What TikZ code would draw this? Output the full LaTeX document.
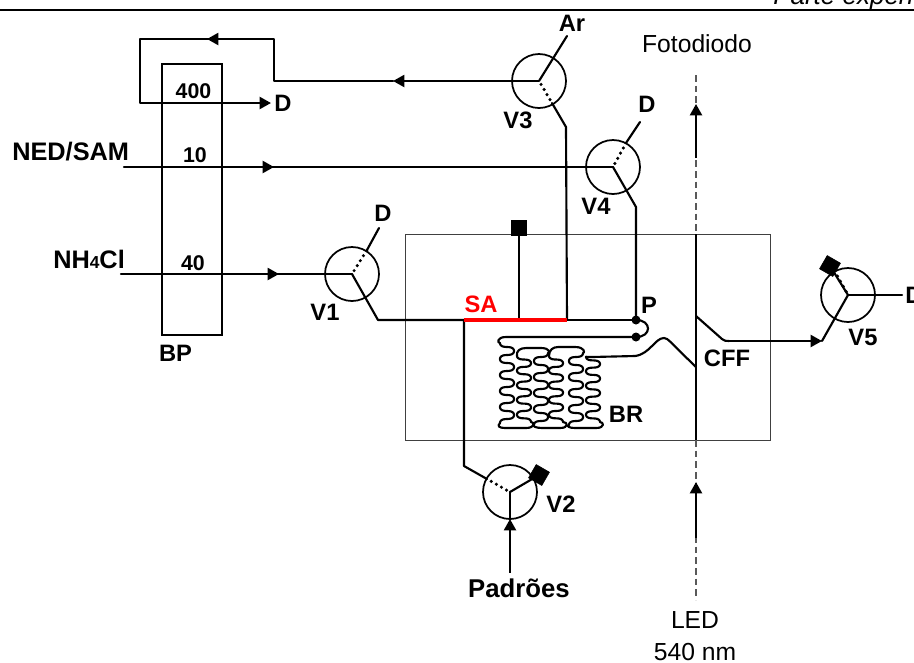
\documentclass[tikz,border=0pt]{standalone}
\usepackage{fontspec}
\setmainfont{Liberation Sans}
\usetikzlibrary{arrows.meta}
\newcommand{\wig}[5]{\draw[pipe] plot[domain=#4:#5,samples=170,variable=\t] ({#1+7*sin(\t)},{#2+(\t-(#4))/360*(#3)-0.07*(#3)*sin(2*\t)});}
\tikzset{
  x=0.75pt,y=-0.75pt,
  pipe/.style={draw=black,line width=1.6pt,line join=round,line cap=round},
  flow/.style={pipe,line cap=butt,-{Triangle[length=8.5pt,width=9pt]}},
  thinbox/.style={draw=black!75,line width=0.75pt},
  pump/.style={draw=black,line width=1.3pt},
  valve/.style={circle,draw=black,line width=1.3pt,minimum size=40.5pt,inner sep=0pt},
  dots/.style={line width=2.6pt,line cap=round,dash pattern=on 0pt off 4.4pt,dash phase=-3pt},
  stopper/.style={fill=black,draw=black,minimum size=11.5pt,inner sep=0pt},
  lab/.style={font=\bfseries\fontsize{17.8}{18}\selectfont,inner sep=0pt},
  num/.style={font=\bfseries\fontsize{16}{18}\selectfont,inner sep=0pt},
  big/.style={font=\bfseries\fontsize{19}{20}\selectfont,inner sep=0pt},
  plain/.style={font=\fontsize{18.5}{20}\selectfont,inner sep=0pt},
  optic/.style={draw=black!65,line width=0.8pt,dash pattern=on 5pt off 3pt},
  beam/.style={draw=black,line width=1.7pt},
}
\begin{document}
\begin{tikzpicture}
\useasboundingbox (0,0) rectangle (914,662);
% header
\coordinate (ruleL) at (0,10); \coordinate (ruleR) at (914,10);
\draw[line width=1.6pt] (ruleL) -- (ruleR);
\node[anchor=base west,inner sep=0pt,font=\itshape\fontsize{19.5}{20}\selectfont] (head) at (773,4) {Parte expen};
% boxes
\draw[thinbox] (405,234) rectangle (770,440);
\node[pump,draw,minimum width=45pt,minimum height=203.25pt,inner sep=0pt] (bp) at (192,199.5) {};
% valves
\node[valve] (v1) at (352,274) {};
\node[valve] (v2) at (510,492) {};
\node[valve] (v3) at (539,81) {};
\node[valve] (v4) at (613,167) {};
\node[valve] (v5) at (848,295) {};
% stoppers
\node[stopper] (sq) at (519,228) {};
\node[stopper,rotate=-30] (sq2) at (539,475) {};
\node[stopper,rotate=-30] (sq5) at (830,266) {};
% coordinates
\coordinate (nhs) at (121,274); \coordinate (nha) at (279,274);
\coordinate (neds) at (124,167); \coordinate (neda) at (274,167);
\coordinate (v3a) at (393,81); \coordinate (c1) at (274,81); \coordinate (c2) at (274,39);
\coordinate (c2a) at (207,39); \coordinate (c3) at (140,39); \coordinate (c4) at (140,103);
\coordinate (dtip) at (271,103);
\coordinate (v1p) at (367,250); \coordinate (v1d) at (379,228); \coordinate (v1k) at (378,320);
\coordinate (sa1) at (464,320); \coordinate (sam) at (519,320); \coordinate (sa2) at (567,320);
\coordinate (v3p) at (552,103); \coordinate (v3k) at (566,127); \coordinate (v3ar) at (567,36);
\coordinate (v4p) at (626,143); \coordinate (v4d) at (640,122); \coordinate (v4k) at (636,207);
\coordinate (p1) at (636,320); \coordinate (p2) at (636,337);
\coordinate (v2k) at (464,466); \coordinate (v2p) at (487,479);
\coordinate (v2t) at (510,519); \coordinate (v2s) at (510,573);
\coordinate (v5p) at (837,275); \coordinate (v5d) at (902,295);
\coordinate (v5t) at (822,341);
% flows
\draw[pipe] (nhs) -- (v1.center);
\draw[flow] (nhs) -- (nha);
\draw[pipe] (neds) -- (v4.center);
\draw[flow] (neds) -- (neda);
\draw[flow] (v3.center) -- (v3a);
\draw[pipe] (v3a) -- (c1) -- (c2) -- (c2a);
\draw[flow] (c2) -- (c2a);
\draw[flow] (c2a) -- (c3) -- (c4) -- (dtip);
% valve ports
\draw[pipe] (v1p) -- (v1d);
\draw[dots] (v1.center) -- (v1p);
\draw[pipe] (v1.center) -- (v1k) -- (sa1);
\draw[pipe] (v3.center) -- (v3ar);
\draw[dots] (v3.center) -- (v3p);
\draw[pipe] (v3p) -- (v3k) -- (sa2);
\draw[pipe] (v4p) -- (v4d);
\draw[dots] (v4.center) -- (v4p);
\draw[pipe] (v4.center) -- (v4k) -- (p1);
\draw[pipe] (sam) -- (sq);
\draw[pipe] (sa1) -- (v2k) -- (v2p);
\draw[dots] (v2.center) -- (v2p);
\draw[pipe] (v2.center) -- (sq2);
\draw[pipe] (v2.center) -- (v2t);
\draw[pipe,line cap=butt,{Triangle[length=8.5pt,width=9pt]}-] (v2t) -- (v2s);
\draw[dots] (v5.center) -- (v5p);
\draw[pipe] (v5.center) -- (sq5);
\draw[pipe] (v5.center) -- (v5d);
\draw[pipe] (v5.center) -- (v5t);
% sample loop
\draw[pipe] (sa2) -- (p1);
\draw[red,line width=2.4pt] (sa1) -- (sa2);
\fill (p1) circle[radius=4.5];
\fill (p2) circle[radius=4.5];
\draw[pipe] (p1) .. controls (652,320) and (652,337) .. (p2);
% reactor
\draw[pipe] (p2) -- (506,337) .. controls (497,337) and (497,343) .. (500,343);
\wig{507}{343}{16}{-90}{1710}
\draw[pipe] (500,423) .. controls (497,426) and (499,428) .. (505,428) -- (526,428) .. controls (535,428) and (535,422) .. (531,422);
\wig{524}{422}{-14.7}{90}{1710}
\draw[pipe] (517,355.85) .. controls (516,351) and (520,348) .. (526,348) -- (541,348) .. controls (550,348) and (550,353) .. (548,353);
\wig{541}{353}{16}{90}{1710}
\draw[pipe] (534,425) .. controls (532,426) and (536,428) .. (542,428) -- (560,428) .. controls (569,428) and (568,422) .. (563,422);
\wig{556}{422}{-14.7}{90}{1710}
\draw[pipe] (549,355.85) .. controls (549,350) and (553,347) .. (558,347) -- (575,347) .. controls (585,347) and (585,353) .. (583,353);
\wig{576}{353}{16}{90}{1710}
\draw[pipe] (569,425) .. controls (566,426) and (569,428) .. (575,428) -- (596,428) .. controls (605,428) and (604,422) .. (600,422);
\wig{593}{422}{-14.5}{90}{1710}
\draw[pipe] (586,356.75) .. controls (586,357) and (588,357) .. (592,357) -- (635,356)
  .. controls (650,354) and (655,338) .. (664,338) .. controls (668,338) and (670,342) .. (696,367);
\draw[pipe] (696,316) -- (722,339) .. controls (724,341) and (726,341) .. (729,341);
\draw[flow] (729,341) -- (v5t);
% optical axis
\coordinate (o1) at (696,75); \coordinate (o2) at (696,234); \coordinate (o3) at (696,440); \coordinate (o4) at (696,600);
\draw[optic] (o1) -- (o2);
\draw[optic] (o3) -- (o4);
\draw[beam] (o2) -- (o3);
\coordinate (a1) at (696,158); \coordinate (a2) at (696,104);
\coordinate (b1) at (696,538); \coordinate (b2) at (696,482);
\draw[beam,-{Triangle[length=8.5pt,width=9pt]}] (a1) -- (a2);
\draw[beam,-{Triangle[length=8.5pt,width=9pt]}] (b1) -- (b2);
% labels
\node[num] (n400) at (193.5,91.5) {400};
\node[num] (n10) at (195,155) {10};
\node[num] (n40) at (193,263) {40};
\node[lab] (d1) at (283,103) {D};
\node[big,anchor=west] (ned) at (12,152) {NED/SAM};
\node[big,anchor=base west] (nh) at (53,268) {NH{\fontsize{13}{14}\selectfont 4}Cl};
\node[lab] (d2) at (383,213) {D};
\node[lab] (lv1) at (325,312) {V1};
\node[lab] (lbp) at (175.5,353) {BP};
\node[lab] (lar) at (572,23) {Ar};
\node[plain] (foto) at (697,44) {Fotodiodo};
\node[lab] (lv3) at (518,120) {V3};
\node[lab] (d3) at (647,104) {D};
\node[lab] (lv4) at (596,206) {V4};
\node[lab,text=red] (lsa) at (481,304) {SA};
\node[lab] (lp) at (649,305) {P};
\node[lab] (lbr) at (626,414) {BR};
\node[lab] (lcff) at (727,358) {CFF};
\node[lab] (lv5) at (863,337) {V5};
\node[lab,anchor=west] (d4) at (905,295) {D};
\node[lab] (lv2) at (561,504) {V2};
\node[anchor=base,inner sep=0pt,font=\bfseries\fontsize{19.3}{20}\selectfont] (pad) at (519,597) {Padrões};
\node[plain] (led) at (695,620) {LED};
\node[plain,anchor=base] (nm) at (695,660) {540 nm};
\end{tikzpicture}
\end{document}
